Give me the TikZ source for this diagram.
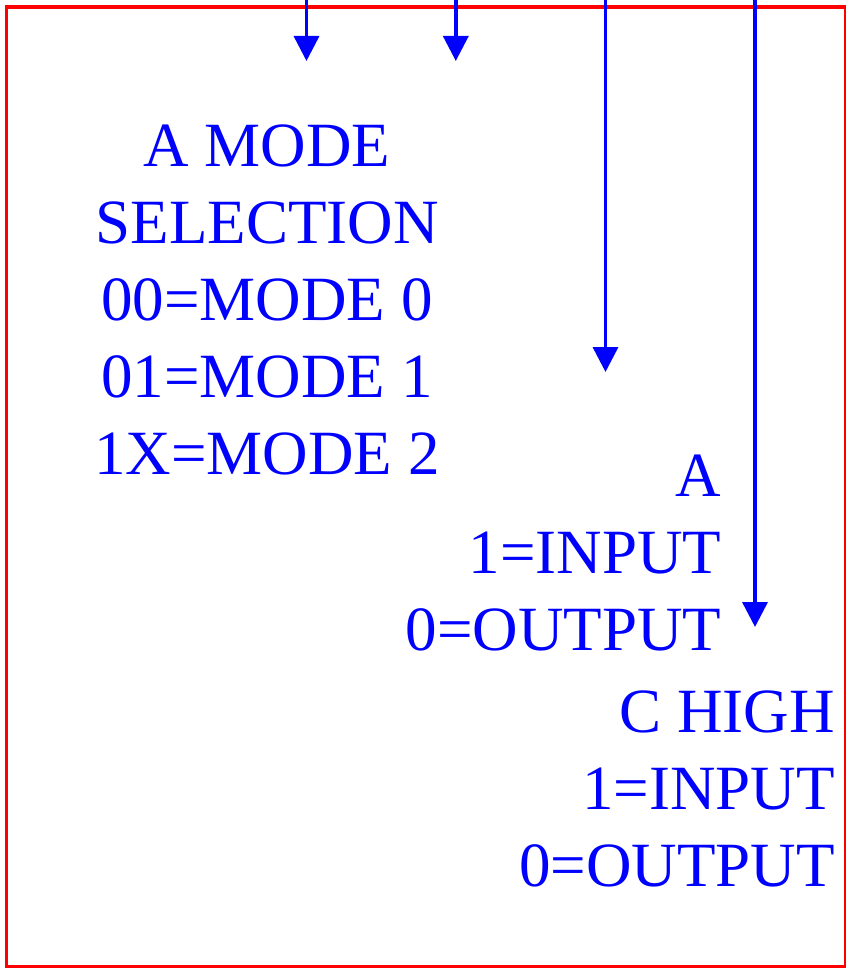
\documentclass[tikz,border=0pt]{standalone}
\usepackage{fontspec}
\setmainfont{Liberation Serif}
\usetikzlibrary{arrows.meta}
\begin{document}
\begin{tikzpicture}[x=1pt,y=-1pt,
  lbl/.style={text=blue, font=\fontsize{63}{77}\selectfont, inner sep=0pt},
  arr/.style={draw=blue, line width=3.5pt, -{Triangle[length=25pt,width=25pt]}},
  frame/.style={draw=red, line width=3.5pt, inner sep=0pt, minimum width=839pt, minimum height=959pt}]
\useasboundingbox (0,0) rectangle (845,968);
\node[frame, anchor=north west] (box) at (4.5,5.5) {};
\coordinate (s1) at (306.5,0);   \coordinate (e1) at (306.5,61);
\coordinate (s2) at (455.8,0);   \coordinate (e2) at (455.8,61);
\coordinate (s3) at (605.5,0);   \coordinate (e3) at (605.5,372);
\coordinate (s4) at (755,0);     \coordinate (e4) at (755,627);
\draw[arr] (s1) -- (e1);
\draw[arr] (s2) -- (e2);
\draw[arr] (s3) -- (e3);
\draw[arr] (s4) -- (e4);
\node[lbl, align=center, anchor=base] (mode) at (267,474) {A MODE\\SELECTION\\00=MODE 0\\01=MODE 1\\1X=MODE 2};
\node[lbl, align=right, anchor=base east] (pa) at (721.5,650.7) {A\\1=INPUT\\0=OUTPUT};
\node[lbl, align=right, anchor=base east] (pc) at (835,886) {C HIGH\\1=INPUT\\0=OUTPUT};
\end{tikzpicture}
\end{document}
